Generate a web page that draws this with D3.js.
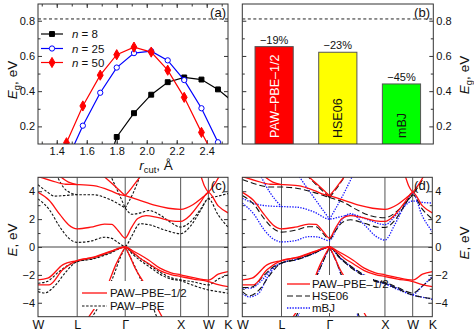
<!DOCTYPE html>
<html><head><meta charset="utf-8">
<script src="https://cdn.jsdelivr.net/npm/d3@7"></script>
<style>body{margin:0;background:#fff}svg{display:block}</style>
</head><body><svg id="chart" width="474" height="333"></svg>
<script>
// ---------------- DATA ----------------
// panel (a): band gap vs cutoff radius
const rcutN8  = [1.69, 1.80, 1.915, 2.03, 2.14, 2.25, 2.365, 2.475, 2.59];
const egN8    = [-0.15, 0.14, 0.275, 0.38, 0.451, 0.478, 0.466, 0.41, 0.33];
const rcutN25 = [1.465, 1.574, 1.69, 1.80, 1.915, 2.03, 2.14, 2.25, 2.365, 2.475];
const egN25   = [0.0, 0.204, 0.391, 0.534, 0.616, 0.627, 0.575, 0.463, 0.303, 0.11];
const rcutN50 = [1.355, 1.465, 1.574, 1.69, 1.80, 1.915, 2.03, 2.14, 2.25, 2.365, 2.475];
const egN50   = [-0.12, 0.107, 0.316, 0.491, 0.607, 0.65, 0.622, 0.519, 0.365, 0.166, -0.01];
const seriesNames = ["8", "25", "50"];
const rTicks = [1.4, 1.6, 1.8, 2.0, 2.2, 2.4];
const egTicks = [0.2, 0.4, 0.6, 0.8];
const expGap = 0.81;

// panel (b): band gaps by method
const methods = ["PAW–PBE–1/2", "HSE06", "mBJ"];
const gapValues = [0.653, 0.621, 0.441];
const gapDeviation = ["−19%", "−23%", "−45%"];

// panels (c),(d): band structures along W-L-Γ-X-W-K
const kPoints = [0, 0.707, 1.573, 2.573, 3.073, 3.427];
const kLabels = ["W", "L", "Γ", "X", "W", "K"];
const eTicks = [-4, -2, 0, 2, 4];

const bandsPbeHalf = [
  [[0,3.92],[0.2,3.35],[0.4,2.3],[0.55,1.6],[0.707,1.3],[0.95,1.42],[1.2,1.64],[1.33,1.62],[1.45,1.15],[1.573,0.64],[1.68,1.35],[1.8,2.05],[1.95,2.25],[2.15,2.12],[2.4,1.88],[2.573,1.84],[2.75,2.3],[2.93,3.2],[3.073,3.92],[3.25,2.95],[3.427,2.45]],
  [[1.573,3.68],[1.8,3.4],[2.1,3.0],[2.35,2.78],[2.573,2.7],[2.8,3.05],[2.95,3.5],[3.073,3.92],[3.2,4.6],[3.3,5.3]],
  [[0,5.05],[0.25,4.75],[0.5,4.5],[0.707,4.48],[1.0,4.4],[1.3,4.05],[1.45,3.8],[1.573,3.68]],
  [[0.36,5.2],[0.55,4.65],[0.707,4.48]],
  [[1.15,5.2],[1.35,4.5],[1.5,3.95],[1.573,3.68]],
  [[1.573,3.68],[1.7,4.3],[1.87,5.2]],
  [[2.93,5.2],[3.0,4.4],[3.073,3.92]],
  [[0,-2.36],[0.175,-2.24],[0.445,-1.28],[0.707,-0.97],[1.0,-0.72],[1.3,-0.32],[1.573,0],[1.7,-0.25],[1.84,-0.56],[2.0,-0.95],[2.2,-1.52],[2.4,-1.85],[2.573,-2.0],[2.8,-2.2],[3.073,-2.37],[3.25,-1.95],[3.427,-1.76]],
  [[0,-2.72],[0.2,-2.72],[0.445,-1.64],[0.707,-0.97],[1.0,-0.76],[1.3,-0.35],[1.573,0],[1.7,-0.35],[1.84,-0.8],[2.0,-1.2],[2.2,-1.69],[2.4,-1.98],[2.573,-2.12],[2.8,-2.3],[3.073,-2.48],[3.25,-2.7],[3.427,-2.84]],
  [[0.9,-5.1],[1.1,-3.9],[1.257,-2.72],[1.4,-1.3],[1.5,-0.5],[1.573,0]],
  [[1.573,0],[1.65,-0.6],[1.75,-1.5],[1.93,-2.7],[2.1,-4.0],[2.25,-5.1]]
];
const bandsPbe = [
  [[0,3.45],[0.2,2.7],[0.4,1.4],[0.55,0.65],[0.707,0.33],[0.95,0.42],[1.2,0.7],[1.33,0.62],[1.45,0.3],[1.573,0.05],[1.68,0.7],[1.84,1.67],[2.0,1.6],[2.3,1.2],[2.573,0.95],[2.75,1.5],[2.93,2.6],[3.073,3.47],[3.25,2.3],[3.427,1.43]],
  [[1.573,2.8],[1.7,2.35],[1.85,2.45],[2.0,2.62],[2.2,2.3],[2.4,1.75],[2.573,1.43],[2.75,1.8],[2.93,2.7],[3.073,3.47],[3.25,3.65],[3.427,3.83]],
  [[0,4.47],[0.15,4.0],[0.3,3.65],[0.5,3.7],[0.707,3.75],[1.0,3.75],[1.3,3.4],[1.573,2.8]],
  [[1.3,5.2],[1.45,3.9],[1.573,2.8]],
  [[1.573,2.8],[1.72,3.9],[1.85,5.2]],
  [[0.33,5.2],[0.5,4.1],[0.707,3.75]],
  [[0,-2.6],[0.15,-2.5],[0.4,-1.7],[0.55,-1.3],[0.707,-1.05],[1.0,-0.8],[1.3,-0.4],[1.573,0],[1.7,-0.4],[1.84,-0.8],[2.0,-1.25],[2.2,-1.8],[2.4,-2.2],[2.573,-2.36],[2.8,-2.5],[3.073,-2.72],[3.25,-2.3],[3.427,-2.0]],
  [[0,-3.2],[0.12,-3.3],[0.3,-2.8],[0.5,-1.8],[0.707,-1.05],[1.0,-0.85],[1.3,-0.45],[1.573,0],[1.7,-0.5],[1.84,-0.95],[2.0,-1.4],[2.2,-1.95],[2.4,-2.3],[2.573,-2.42],[2.8,-2.75],[3.073,-3.08],[3.25,-3.2],[3.427,-3.32]],
  [[0.96,-5.1],[1.15,-3.9],[1.35,-2.2],[1.48,-0.8],[1.573,0]],
  [[1.573,0],[1.7,-1.0],[1.85,-2.3],[2.0,-3.6],[2.15,-5.1]]
];
const bandsHse = [
  [[0,3.7],[0.2,3.1],[0.4,2.0],[0.55,1.35],[0.707,1.07],[0.95,1.2],[1.2,1.45],[1.33,1.45],[1.45,1.0],[1.573,0.55],[1.68,1.15],[1.8,1.75],[1.95,1.95],[2.2,1.7],[2.45,1.42],[2.573,1.4],[2.75,1.9],[2.93,3.0],[3.073,3.75],[3.25,2.7],[3.427,2.0]],
  [[1.573,3.55],[1.8,3.25],[2.1,2.6],[2.35,2.2],[2.573,2.1],[2.8,2.6],[2.95,3.2],[3.073,3.75],[3.2,4.5],[3.3,5.2]],
  [[0,4.85],[0.25,4.5],[0.5,4.3],[0.707,4.3],[1.0,4.2],[1.3,3.9],[1.573,3.55]],
  [[1.573,3.55],[1.7,4.2],[1.87,5.2]],
  [[1.15,5.2],[1.35,4.4],[1.573,3.55]],
  [[0,-2.9],[0.15,-2.9],[0.4,-2.0],[0.55,-1.45],[0.707,-1.15],[1.0,-0.85],[1.3,-0.42],[1.573,0],[1.75,-0.7],[2.0,-1.5],[2.2,-2.0],[2.4,-2.4],[2.573,-2.55],[2.8,-2.9],[3.073,-3.3],[3.25,-2.8],[3.427,-2.2]],
  [[0,-3.2],[0.13,-3.5],[0.3,-3.1],[0.5,-2.0],[0.707,-1.15],[1.0,-0.9],[1.3,-0.45],[1.573,0],[1.75,-0.75],[2.0,-1.6],[2.2,-2.1],[2.4,-2.45],[2.573,-2.62],[2.8,-3.0],[3.073,-3.45],[3.25,-3.6],[3.427,-3.7]],
  [[0.95,-5.1],[1.1,-4.0],[1.31,-2.36],[1.45,-1.1],[1.573,0]],
  [[1.573,0],[1.7,-1.1],[1.82,-2.36],[2.0,-3.9],[2.12,-5.1]]
];
const bandsMbj = [
  [[0,3.15],[0.2,2.4],[0.4,1.2],[0.55,0.6],[0.707,0.37],[0.95,0.45],[1.2,0.75],[1.35,0.72],[1.573,0.45],[1.7,1.3],[1.85,2.2],[1.95,2.4],[2.2,1.6],[2.4,0.8],[2.573,0.5],[2.75,1.6],[2.93,3.0],[3.073,3.85],[3.25,2.2],[3.427,1.1]],
  [[0,3.5],[0.2,3.15],[0.45,2.95],[0.707,2.9],[1.0,2.85],[1.3,2.5],[1.573,2.0],[1.75,2.15],[2.0,2.3],[2.3,1.9],[2.573,1.6],[2.8,2.4],[3.073,3.3],[3.25,3.2],[3.427,3.15]],
  [[0.32,5.2],[0.5,3.9],[0.707,2.9]],
  [[1.0,5.2],[1.3,3.5],[1.573,2.0]],
  [[1.573,2.0],[1.8,3.6],[2.0,5.2]],
  [[0,-3.35],[0.13,-3.58],[0.3,-3.3],[0.45,-2.2],[0.6,-1.4],[0.707,-1.15],[1.0,-0.88],[1.3,-0.44],[1.573,0],[1.75,-0.75],[2.0,-1.55],[2.18,-2.0],[2.4,-2.4],[2.573,-2.6],[2.8,-2.95],[3.073,-3.4],[3.25,-2.8],[3.427,-2.1]],
  [[0,-2.95],[0.15,-2.95],[0.35,-2.4],[0.55,-1.5],[0.707,-1.15],[1.0,-0.86],[1.3,-0.43],[1.573,0],[1.75,-0.72],[2.0,-1.52],[2.2,-2.05],[2.4,-2.45],[2.573,-2.65],[2.8,-3.05],[3.073,-3.45],[3.25,-3.6],[3.427,-3.75]],
  [[0.98,-5.1],[1.12,-4.0],[1.31,-2.4],[1.45,-1.1],[1.573,0]],
  [[1.573,0],[1.7,-1.1],[1.82,-2.4],[1.98,-3.9],[2.1,-5.1]]
];

// ---------------- DRAWING ----------------
const F = '"Liberation Sans", Arial, Helvetica, sans-serif';
const svg = d3.select("#chart");
const FRAME = "#333";
const TICK_FS = 11, TITLE_FS = 13.5;

function styleAxis(g) {
  g.attr("font-family", F).attr("font-size", TICK_FS);
  g.select(".domain").remove();
  g.selectAll(".tick line").attr("stroke", FRAME);
  g.selectAll(".tick text").attr("fill", "#111");
  return g;
}
function axis(gen, tx, ty) {
  return styleAxis(svg.append("g").attr("transform", `translate(${tx},${ty})`).call(gen));
}
function clip(id, x0, y0, x1, y1) {
  svg.append("clipPath").attr("id", id).append("rect")
    .attr("x", x0).attr("y", y0).attr("width", x1 - x0).attr("height", y1 - y0);
}
function frameRect(x0, y0, x1, y1) {
  svg.append("rect").attr("x", x0).attr("y", y0).attr("width", x1 - x0).attr("height", y1 - y0)
    .attr("fill", "none").attr("stroke", FRAME).attr("stroke-width", 1);
}
function egTitle(x, y) {
  const t = svg.append("text").attr("transform", `translate(${x},${y}) rotate(-90)`)
    .attr("text-anchor", "middle").attr("font-family", F).attr("font-size", TITLE_FS).attr("fill", "#111");
  t.append("tspan").attr("font-style", "italic").text("E");
  t.append("tspan").attr("font-size", TITLE_FS * 0.7).attr("dy", 3).text("g");
  t.append("tspan").attr("dy", -3).text(", eV");
}
function eTitle(x, y) {
  const t = svg.append("text").attr("transform", `translate(${x},${y}) rotate(-90)`)
    .attr("text-anchor", "middle").attr("font-family", F).attr("font-size", TITLE_FS).attr("fill", "#111");
  t.append("tspan").attr("font-style", "italic").text("E");
  t.append("tspan").text(", eV");
}
function panelLabel(x, y, s) {
  svg.append("text").attr("x", x).attr("y", y).attr("text-anchor", "end")
    .attr("font-family", F).attr("font-size", 13).attr("fill", "#111").text(s);
}

// ===== Panel (a) =====
const A = {l: 38, r: 228, t: 4, b: 144};
const ax = d3.scaleLinear().domain([1.275, 2.542]).range([A.l, A.r]);
const ay = d3.scaleLinear().domain([0.1, 0.895]).range([A.b, A.t]);
clip("clipA", A.l, A.t, A.r, A.b);
const minorR = d3.range(13, 26).map(v => v / 10);
const minorEg = [0.3, 0.5, 0.7];

axis(d3.axisBottom(ax).tickValues(rTicks).tickFormat(d3.format(".1f")).tickSize(-4).tickPadding(3), 0, A.b);
axis(d3.axisBottom(ax).tickValues(minorR).tickFormat("").tickSize(-2.5), 0, A.b);
axis(d3.axisTop(ax).tickValues(rTicks).tickFormat("").tickSize(-4), 0, A.t);
axis(d3.axisTop(ax).tickValues(minorR).tickFormat("").tickSize(-2.5), 0, A.t);
axis(d3.axisLeft(ay).tickValues(egTicks).tickFormat(d3.format(".1f")).tickSize(-4).tickPadding(3), A.l, 0);
axis(d3.axisLeft(ay).tickValues(minorEg).tickFormat("").tickSize(-2.5), A.l, 0);
axis(d3.axisRight(ay).tickValues(egTicks).tickFormat("").tickSize(-4), A.r, 0);
axis(d3.axisRight(ay).tickValues(minorEg).tickFormat("").tickSize(-2.5), A.r, 0);

const gA = svg.append("g").attr("clip-path", "url(#clipA)");
gA.append("line").attr("x1", A.l).attr("x2", A.r).attr("y1", ay(expGap)).attr("y2", ay(expGap))
  .attr("stroke", "#222").attr("stroke-dasharray", "3,2.5").attr("stroke-width", 1);

const seriesA = [
  {name: seriesNames[0], xs: rcutN8, ys: egN8, color: "#000000", sym: d3.symbolSquare, size: 24, fill: "#000000"},
  {name: seriesNames[1], xs: rcutN25, ys: egN25, color: "#0000ff", sym: d3.symbolCircle, size: 22, fill: "#ffffff"},
  {name: seriesNames[2], xs: rcutN50, ys: egN50, color: "#ff0000", sym: d3.symbolDiamond, size: 30, fill: "#ff0000"}
];
const lineA = d3.line().x(d => ax(d[0])).y(d => ay(d[1]));
seriesA.forEach(s => {
  const pts = s.xs.map((x, i) => [x, s.ys[i]]);
  gA.append("path").attr("d", lineA(pts)).attr("fill", "none").attr("stroke", s.color).attr("stroke-width", 1.2);
  gA.selectAll(null).data(pts).join("path")
    .attr("transform", d => `translate(${ax(d[0])},${ay(d[1])})`)
    .attr("d", d3.symbol().type(s.sym).size(s.size))
    .attr("fill", s.fill).attr("stroke", s.color).attr("stroke-width", 1);
});
// legend (a)
const legYA = [34, 48.5, 62.5];
seriesA.forEach((s, i) => {
  const y = legYA[i];
  svg.append("line").attr("x1", 41).attr("x2", 63).attr("y1", y).attr("y2", y).attr("stroke", s.color).attr("stroke-width", 1.2);
  svg.append("path").attr("transform", `translate(52,${y})`).attr("d", d3.symbol().type(s.sym).size(s.size)())
    .attr("fill", s.fill).attr("stroke", s.color);
  const t = svg.append("text").attr("x", 72).attr("y", y + 4).attr("font-family", F).attr("font-size", 11.5).attr("fill", "#111");
  t.append("tspan").attr("font-style", "italic").text("n");
  t.append("tspan").text(" = " + s.name);
});
frameRect(A.l, A.t, A.r, A.b);
panelLabel(226, 17, "(a)");
egTitle(17, 80);
{
  const t = svg.append("text").attr("x", 156).attr("y", 170).attr("text-anchor", "middle")
    .attr("font-family", F).attr("font-size", TITLE_FS).attr("fill", "#111");
  t.append("tspan").attr("font-style", "italic").text("r");
  t.append("tspan").attr("font-size", TITLE_FS * 0.7).attr("dy", 2.5).text("cut");
  t.append("tspan").attr("dy", -2.5).text(", Å");
}

// ===== Panel (b) =====
const B = {l: 242.3, r: 433.3, t: 4, b: 144};
const bx = d3.scaleBand().domain(methods).range([B.l, B.r]).paddingInner(0.4).paddingOuter(0.2);
const by = d3.scaleLinear().domain([0.1, 0.895]).range([B.b, B.t]);
clip("clipB", B.l, B.t, B.r, B.b);
axis(d3.axisRight(by).tickValues(egTicks).tickFormat(d3.format(".1f")).tickSize(-4).tickPadding(3), B.r, 0);
axis(d3.axisRight(by).tickValues(minorEg).tickFormat("").tickSize(-2.5), B.r, 0);
axis(d3.axisLeft(by).tickValues(egTicks).tickFormat("").tickSize(-4), B.l, 0);
axis(d3.axisLeft(by).tickValues(minorEg).tickFormat("").tickSize(-2.5), B.l, 0);
const gB = svg.append("g").attr("clip-path", "url(#clipB)");
gB.append("line").attr("x1", B.l).attr("x2", B.r).attr("y1", by(expGap)).attr("y2", by(expGap))
  .attr("stroke", "#222").attr("stroke-dasharray", "3,2.5").attr("stroke-width", 1);
const barFill = ["#ff0000", "#ffff00", "#00ff00"];
const barText = ["#ffffff", "#111111", "#111111"];
gB.selectAll(null).data(methods).join("rect")
  .attr("x", d => bx(d)).attr("width", bx.bandwidth())
  .attr("y", (d, i) => by(gapValues[i])).attr("height", (d, i) => B.b - by(gapValues[i]) + 2)
  .attr("fill", (d, i) => barFill[i]).attr("stroke", "#555").attr("stroke-width", 1);
methods.forEach((m, i) => {
  const cx = bx(m) + bx.bandwidth() / 2;
  svg.append("text").attr("x", cx).attr("y", by(gapValues[i]) - 3).attr("text-anchor", "middle")
    .attr("font-family", F).attr("font-size", 11).attr("fill", "#111").text(gapDeviation[i]);
  svg.append("text").attr("transform", `translate(${cx},138) rotate(-90)`).attr("dy", "0.36em")
    .attr("font-family", F).attr("font-size", 12.5).attr("fill", barText[i]).text(m);
});
frameRect(B.l, B.t, B.r, B.b);
panelLabel(430, 17, "(b)");
egTitle(469, 75);

// ===== Panels (c) and (d) =====
const CT = 177.3, CB = 316.7;
const ey = d3.scaleLinear().domain([-5, 5]).range([CB, CT]);
const minorE = [-3, -1, 1, 3];
function bandPanel(id, x0, x1, labelsRight) {
  const kx = d3.scaleLinear().domain([0, 3.427]).range([x0, x1]);
  clip(id, x0, CT, x1, CB);
  const lab = labelsRight ? d3.axisRight : d3.axisLeft;
  const other = labelsRight ? d3.axisLeft : d3.axisRight;
  axis(lab(ey).tickValues(eTicks).tickFormat(d3.format("d")).tickSize(-4).tickPadding(3), labelsRight ? x1 : x0, 0);
  axis(lab(ey).tickValues(minorE).tickFormat("").tickSize(-2.5), labelsRight ? x1 : x0, 0);
  axis(other(ey).tickValues(eTicks).tickFormat("").tickSize(-4), labelsRight ? x0 : x1, 0);
  axis(other(ey).tickValues(minorE).tickFormat("").tickSize(-2.5), labelsRight ? x0 : x1, 0);
  const xa = axis(d3.axisBottom(kx).tickValues(kPoints).tickFormat((d, i) => kLabels[i]).tickSize(0).tickPadding(3), 0, CB);
  xa.attr("font-size", 12.5);
  const g = svg.append("g").attr("clip-path", `url(#${id})`);
  g.selectAll(null).data(kPoints.slice(1, 5)).join("line")
    .attr("x1", d => kx(d)).attr("x2", d => kx(d)).attr("y1", CT).attr("y2", CB)
    .attr("stroke", "#555").attr("stroke-width", 1);
  g.append("line").attr("x1", x0).attr("x2", x1).attr("y1", ey(0)).attr("y2", ey(0))
    .attr("stroke", "#444").attr("stroke-width", 1);
  return {kx, g};
}
function drawBands(P, bands, color, dash, width) {
  const line = d3.line().x(d => P.kx(d[0])).y(d => ey(d[1])).curve(d3.curveMonotoneX);
  P.g.selectAll(null).data(bands).join("path").attr("d", line)
    .attr("fill", "none").attr("stroke", color).attr("stroke-width", width)
    .attr("stroke-dasharray", dash);
}
function legend(x0, y0, w, h, items) {
  svg.append("rect").attr("x", x0).attr("y", y0).attr("width", w).attr("height", h).attr("fill", "#fff");
  items.forEach(it => {
    svg.append("line").attr("x1", it.lx0).attr("x2", it.lx1).attr("y1", it.y).attr("y2", it.y)
      .attr("stroke", it.color).attr("stroke-width", it.width).attr("stroke-dasharray", it.dash);
    svg.append("text").attr("x", it.tx).attr("y", it.y + 4).attr("font-family", F).attr("font-size", 11.5)
      .attr("fill", "#111").text(it.text);
  });
}

const RED = "#ff1010", BLUE = "#1a1aff";
// (c)
const PC = bandPanel("clipC", 38, 228, false);
drawBands(PC, bandsPbe, "#111", "2.5,1.6", 1.1);
drawBands(PC, bandsPbeHalf, RED, null, 1.3);
legend(80, 281, 100, 28, [
  {lx0: 82, lx1: 107, y: 293, color: RED, dash: null, width: 1.3, tx: 110, text: "PAW–PBE–1/2"},
  {lx0: 82, lx1: 107, y: 306, color: "#111", dash: "2.5,1.6", width: 1.1, tx: 110, text: "PAW–PBE"}
]);
frameRect(38, CT, 228, CB);
panelLabel(226, 190, "(c)");
eTitle(17, 240);

// (d)
const PD = bandPanel("clipD", 242.3, 432.3, true);
drawBands(PD, bandsMbj, BLUE, "1.4,1.3", 1.3);
drawBands(PD, bandsHse, "#111", "6,3", 1.1);
drawBands(PD, bandsPbeHalf, RED, null, 1.3);
legend(283, 275, 90, 38, [
  {lx0: 287, lx1: 310, y: 284, color: RED, dash: null, width: 1.3, tx: 312, text: "PAW–PBE–1/2"},
  {lx0: 287, lx1: 310, y: 296, color: "#111", dash: "6,3", width: 1.1, tx: 312, text: "HSE06"},
  {lx0: 287, lx1: 310, y: 308, color: BLUE, dash: "1.4,1.3", width: 1.3, tx: 312, text: "mBJ"}
]);
frameRect(242.3, CT, 432.3, CB);
panelLabel(430, 190, "(d)");
eTitle(469, 243);
</script></body></html>
